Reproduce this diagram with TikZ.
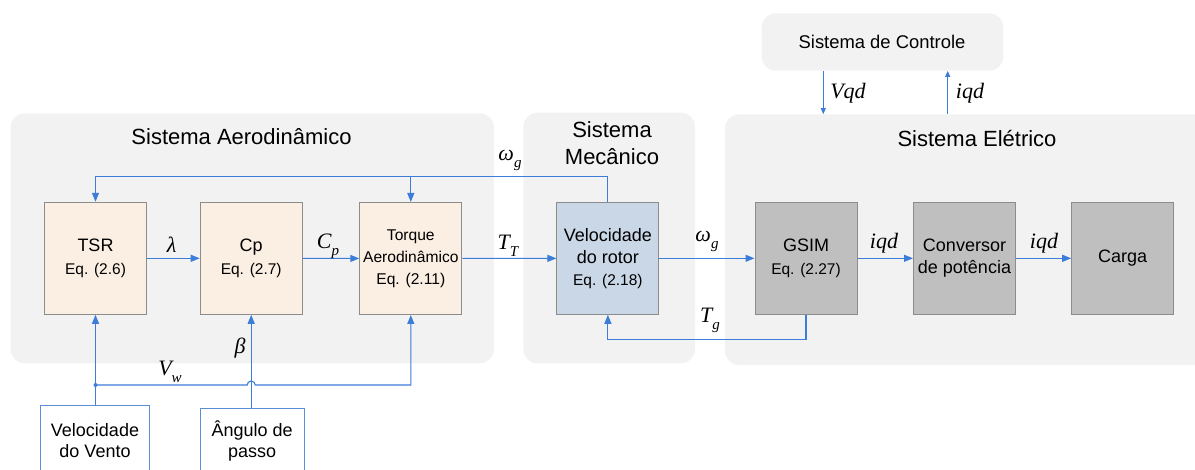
\documentclass[tikz,border=0pt]{standalone}
\usepackage{fontspec}
\setmainfont{Liberation Sans}
\newfontfamily\serifit{Liberation Serif}
\usetikzlibrary{arrows.meta}

\definecolor{panelfill}{HTML}{F2F2F2}
\definecolor{peach}{HTML}{FBEEE3}
\definecolor{rotorblue}{HTML}{C9D7E7}
\definecolor{machgray}{HTML}{BFBFBF}
\definecolor{wirecol}{HTML}{3B7DD8}
\definecolor{edgegray}{HTML}{8C8C8C}
\definecolor{inboxcol}{HTML}{5B8ED6}

% italic serif variable with a lowered index
\newcommand\mv[1]{{\serifit\itshape #1}}
\newcommand\ix[1]{\raisebox{-0.32em}{\fontsize{15}{15}\selectfont\serifit\itshape #1}}

\tikzset{
  panelbox/.style={fill=panelfill, rounded corners=14pt, draw=none, inner sep=0pt},
  block/.style={draw=edgegray, line width=1pt, minimum width=102pt, minimum height=112pt,
    inner sep=0pt, align=center, font=\fontsize{18}{23}\selectfont},
  inbox/.style={draw=inboxcol, line width=1pt, inner sep=0pt, align=center,
    font=\fontsize{18}{21}\selectfont},
  title/.style={font=\fontsize{22}{27}\selectfont, align=center, inner sep=0pt},
  var/.style={font=\fontsize{22}{22}\selectfont, inner sep=0pt},
  wire/.style={draw=wirecol, line width=1.1pt},
  arr/.style={wire, -{Triangle[length=9pt,width=7pt]}},
  smarr/.style={wire, -{Triangle[length=6pt,width=5pt]}},
}

\begin{document}
\begin{tikzpicture}[x=1pt, y=-1pt]
\useasboundingbox (0,0) rectangle (1195,470);

% subsystem panels
\node[panelbox, minimum width=483.3pt, minimum height=250pt] (aero) at (252.3,238.3) {};
\node[panelbox, minimum width=171.7pt, minimum height=250.6pt] (mech) at (609.2,238) {};
\node[panelbox, minimum width=490pt, minimum height=250.7pt] (elec) at (970,239.7) {};
\node[panelbox, minimum width=241.6pt, minimum height=57.4pt] (ctrl) at (882.5,42) {};

\node[title] (taero) at (241.5,136.7) {Sistema Aerodinâmico};
\node[title] (tmech) at (612,143.3) {Sistema\\Mecânico};
\node[title] (telec) at (977,138.3) {Sistema Elétrico};
\node[font=\fontsize{18.4}{22}\selectfont, inner sep=0pt] (tctrl) at (882,41.7) {Sistema de Controle};

% blocks
\node[block, fill=peach] (tsr) at (95.5,258.3) {TSR\\{\fontsize{15.5}{15.5}\selectfont Eq. (2.6)}};
\node[block, fill=peach] (cp) at (251.2,258.3) {Cp\\{\fontsize{15.5}{15.5}\selectfont Eq. (2.7)}};
\node[block, fill=peach, font=\fontsize{15.6}{22}\selectfont] (torque) at (410.8,258.5)
  {Torque\\Aerodinâmico\\Eq. (2.11)};
\node[block, fill=rotorblue, font=\fontsize{18}{22}\selectfont] (rotor) at (607.9,258.3)
  {Velocidade\\do rotor\\{\fontsize{15.5}{15.5}\selectfont Eq. (2.18)}};
\node[block, fill=machgray] (gsim) at (806,258.3) {GSIM\\{\fontsize{15.5}{15.5}\selectfont Eq. (2.27)}};
\node[block, fill=machgray, font=\fontsize{18}{21.5}\selectfont] (conv) at (964.5,258.3) {Conversor\\de potência};
\node[block, fill=machgray] (carga) at (1122.7,258.3) {Carga};

% inputs
\node[inbox, minimum width=108.6pt, minimum height=70pt] (vento) at (95,441) {Velocidade\\do Vento};
\node[inbox, minimum width=104.3pt, minimum height=66pt] (angulo) at (252.2,441.3) {Ângulo de\\passo};

% forward path
\draw[arr] (tsr) -- (cp);
\draw[arr] (cp) -- (torque);
\draw[arr] (torque) -- (rotor);
\draw[arr] (rotor) -- (gsim);
\draw[arr] (gsim) -- (conv);
\draw[arr] (conv) -- (carga);

% speed feedback
\coordinate (fb) at ([yshift=25pt]rotor.north);
\draw[arr] (rotor.north) -- (fb) -| (tsr.north);
\draw[arr] (torque.north |- fb) -- (torque.north);

% generator torque feedback
\draw[arr] (gsim.south) -- ++(0,25) -| (rotor.south);

% wind speed and pitch angle
\coordinate (vj) at (tsr.south |- 0,385);
\draw[arr] (tsr.south |- vento.north) -- (tsr.south);
\fill[wirecol] (vj) circle (2pt);
\draw[arr] (vj) -- ([xshift=-4pt]cp.south |- vj) arc (180:0:4pt) -- (torque.south |- vj) -- (torque.south);
\draw[arr] (cp.south |- angulo.north) -- (cp.south);

% control interface
\coordinate (vqx) at (823.3,0);
\coordinate (iqx) at (947.7,0);
\draw[smarr] (ctrl.south -| vqx) -- (elec.north -| vqx);
\draw[smarr] (elec.north -| iqx) -- (ctrl.south -| iqx);

% signal labels
\node[var] (lwg1) at (510,160) {\mv{ω}\ix{g}};
\node[var] (llam) at (171.7,245) {\mv{λ}};
\node[var] (lcp) at (328,246) {\mv{C}\ix{p}};
\node[var] (ltt) at (508,246) {\mv{T}\ix{T}};
\node[var] (lwg2) at (707,241) {\mv{ω}\ix{g}};
\node[var] (ltg) at (710,320) {\mv{T}\ix{g}};
\node[var] (lvw) at (170,372) {\mv{V}\ix{w}};
\node[var] (lbeta) at (240,348) {\mv{β}};
\node[var] (liq1) at (884,243) {\mv{iqd}};
\node[var] (liq2) at (1044,243) {\mv{iqd}};
\node[var] (lvqd) at (848,93) {\mv{Vqd}};
\node[var] (liq3) at (970,93) {\mv{iqd}};
\end{tikzpicture}
\end{document}
